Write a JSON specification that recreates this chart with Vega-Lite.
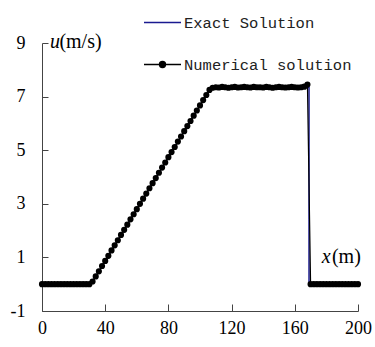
{
"$schema": "https://vega.github.io/schema/vega-lite/v6.json",
"width": 316, "height": 268, "autosize": "none",
"padding": {"left": 42, "top": 43, "right": 17, "bottom": 36},
"background": "white",
"config": {"view": {"stroke": null}},
"datasets": {
"exact": [
{"x":0,"u":0,"s":"Exact Solution"},{"x":31,"u":0,"s":"Exact Solution"},{"x":107,"u":7.35,"s":"Exact Solution"},{"x":169,"u":7.35,"s":"Exact Solution"},{"x":169,"u":0,"s":"Exact Solution"},{"x":200,"u":0,"s":"Exact Solution"}
],
"num": [
{"x":0,"u":0},{"x":2,"u":0},{"x":4,"u":0},{"x":6,"u":0},{"x":8,"u":0},{"x":10,"u":0},{"x":12,"u":0},{"x":14,"u":0},{"x":16,"u":0},{"x":18,"u":0},{"x":20,"u":0},{"x":22,"u":0},{"x":24,"u":0},{"x":26,"u":0},{"x":28,"u":0},{"x":30,"u":0},
{"x":32,"u":0.10},{"x":34,"u":0.29},{"x":36,"u":0.48},{"x":38,"u":0.68},{"x":40,"u":0.87},{"x":42,"u":1.06},{"x":44,"u":1.26},{"x":46,"u":1.45},{"x":48,"u":1.64},{"x":50,"u":1.84},{"x":52,"u":2.03},{"x":54,"u":2.22},{"x":56,"u":2.42},{"x":58,"u":2.61},{"x":60,"u":2.80},{"x":62,"u":3.00},{"x":64,"u":3.19},{"x":66,"u":3.38},{"x":68,"u":3.58},{"x":70,"u":3.77},{"x":72,"u":3.96},{"x":74,"u":4.16},{"x":76,"u":4.35},{"x":78,"u":4.54},{"x":80,"u":4.74},{"x":82,"u":4.93},{"x":84,"u":5.12},{"x":86,"u":5.32},{"x":88,"u":5.51},{"x":90,"u":5.71},{"x":92,"u":5.90},{"x":94,"u":6.09},{"x":96,"u":6.29},{"x":98,"u":6.48},{"x":100,"u":6.67},{"x":102,"u":6.87},{"x":104,"u":7.06},{"x":106,"u":7.25},{"x":108,"u":7.33},
{"x":110,"u":7.35},{"x":112,"u":7.34},{"x":114,"u":7.36},{"x":116,"u":7.35},{"x":118,"u":7.33},{"x":120,"u":7.35},{"x":122,"u":7.36},{"x":124,"u":7.34},{"x":126,"u":7.35},{"x":128,"u":7.36},{"x":130,"u":7.35},{"x":132,"u":7.34},{"x":134,"u":7.36},{"x":136,"u":7.35},{"x":138,"u":7.35},{"x":140,"u":7.34},{"x":142,"u":7.36},{"x":144,"u":7.35},{"x":146,"u":7.33},{"x":148,"u":7.35},{"x":150,"u":7.36},{"x":152,"u":7.35},{"x":154,"u":7.34},{"x":156,"u":7.35},{"x":158,"u":7.36},{"x":160,"u":7.35},{"x":162,"u":7.34},{"x":164,"u":7.35},{"x":166,"u":7.37},{"x":168,"u":7.45},
{"x":170,"u":0},{"x":172,"u":0},{"x":174,"u":0},{"x":176,"u":0},{"x":178,"u":0},{"x":180,"u":0},{"x":182,"u":0},{"x":184,"u":0},{"x":186,"u":0},{"x":188,"u":0},{"x":190,"u":0},{"x":192,"u":0},{"x":194,"u":0},{"x":196,"u":0},{"x":198,"u":0},{"x":200,"u":0}
],
"one": [{"a":1}]
},
"layer": [
{"data": {"name": "exact"},
 "mark": {"type": "line", "strokeWidth": 1.5},
 "encoding": {
  "x": {"field": "x", "type": "quantitative", "scale": {"domain": [0, 200], "nice": false},
        "axis": {"values": [0,40,80,120,160,200], "title": null, "grid": false, "tickSize": -7, "labelPadding": 15, "labelFlush": false, "labelFont": "Liberation Serif", "labelFontSize": 18, "labelColor": "black", "domainColor": "#444", "tickColor": "#444", "labelBaseline": "top"}},
  "y": {"field": "u", "type": "quantitative", "scale": {"domain": [-1, 9], "nice": false, "zero": false},
        "axis": {"values": [-1,1,3,5,7,9], "title": null, "grid": false, "tickSize": -6, "labelPadding": 23, "labelFlush": false, "labelExpr": "replace(datum.label, '\u2212', '-')", "labelFont": "Liberation Serif", "labelFontSize": 18, "labelColor": "black", "domainColor": "#444", "tickColor": "#444", "labelBaseline": "middle"}},
  "color": {"field": "s", "type": "nominal",
   "scale": {"domain": ["Exact Solution", "Numerical solution"], "range": ["#1a1a90", "#000000"]},
   "legend": {"orient": "none", "legendX": 101, "legendY": -40, "title": null, "padding": 0,
     "symbolSize": 1369, "symbolType": "M-1,0H1", "symbolStrokeWidth": 1.5,
     "labelFont": "Liberation Mono", "labelFontSize": 15.5, "labelColor": "#222", "labelOffset": 2, "labelLimit": 0, "rowPadding": 14,
     "encode": {"symbols": {"update": {
       "shape": {"signal": "datum.value === 'Numerical solution' ? 'M-1,0H1M0.16,0A0.16,0.16,0,1,1,-0.16,0A0.16,0.16,0,1,1,0.16,0Z' : 'M-1,0H1'"},
       "fill": {"signal": "datum.value === 'Numerical solution' ? 'black' : 'transparent'"}}}}}}
 }},
{"data": {"name": "num"},
 "transform": [{"calculate": "'Numerical solution'", "as": "s"}],
 "mark": {"type": "line", "strokeWidth": 1.2},
 "encoding": {"x": {"field": "x", "type": "quantitative"}, "y": {"field": "u", "type": "quantitative"}, "color": {"field": "s", "type": "nominal"}}},
{"data": {"name": "num"},
 "mark": {"type": "point", "filled": true, "size": 38, "opacity": 1, "color": "black"},
 "encoding": {"x": {"field": "x", "type": "quantitative"}, "y": {"field": "u", "type": "quantitative"}}},
{"data": {"name": "one"},
 "mark": {"type": "text", "text": "u", "font": "Liberation Serif", "fontStyle": "italic", "fontSize": 20, "align": "left", "baseline": "middle", "color": "black"},
 "encoding": {"x": {"datum": 5}, "y": {"datum": 9.05}}},
{"data": {"name": "one"},
 "mark": {"type": "text", "text": "(m/s)", "font": "Liberation Serif", "fontSize": 20, "align": "left", "baseline": "middle", "color": "black"},
 "encoding": {"x": {"datum": 11}, "y": {"datum": 9.05}}},
{"data": {"name": "one"},
 "mark": {"type": "text", "text": "x", "font": "Liberation Serif", "fontStyle": "italic", "fontSize": 20, "align": "left", "baseline": "middle", "color": "black"},
 "encoding": {"x": {"datum": 177}, "y": {"datum": 1}}},
{"data": {"name": "one"},
 "mark": {"type": "text", "text": "(m)", "font": "Liberation Serif", "fontSize": 20, "align": "left", "baseline": "middle", "color": "black"},
 "encoding": {"x": {"datum": 183.5}, "y": {"datum": 1}}}
]
}
